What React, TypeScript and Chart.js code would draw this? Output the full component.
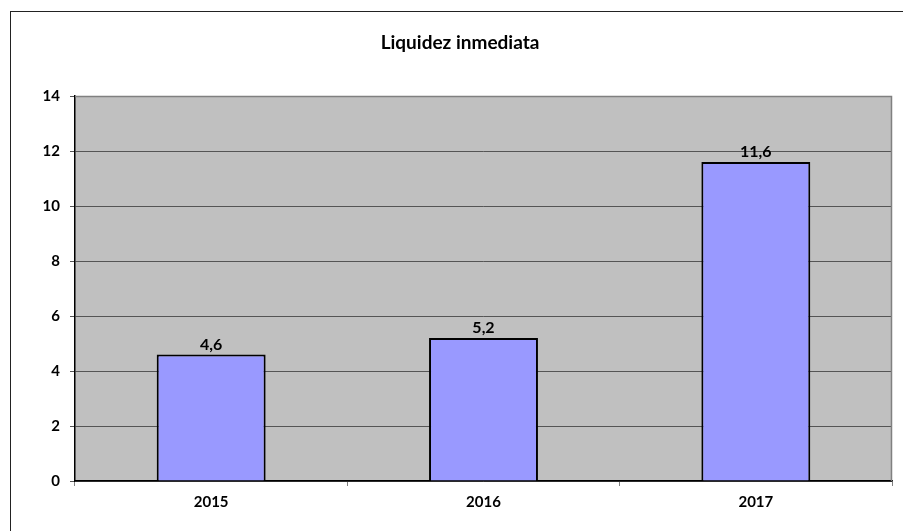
import React, { useEffect, useRef } from "react";
import { Chart, registerables } from "chart.js";

Chart.register(...registerables);

const categories = ["2015", "2016", "2017"];
const values = [4.6, 5.2, 11.6];
const yTicks = [0, 2, 4, 6, 8, 10, 12, 14];
const titleText = "Liquidez inmediata";

const FONT = "Lato, 'Open Sans', 'DejaVu Sans', sans-serif";

const decorPlugin = {
  id: "decor",
  beforeDraw(chart: any) {
    const { ctx, chartArea } = chart;
    ctx.save();
    ctx.fillStyle = "#ffffff";
    ctx.fillRect(0, 0, chart.width, chart.height);
    // outer border
    ctx.strokeStyle = "#222222";
    ctx.lineWidth = 1;
    ctx.strokeRect(10.5, 11.5, chart.width, chart.height);
    // plot background
    ctx.fillStyle = "#c0c0c0";
    ctx.fillRect(chartArea.left, chartArea.top, chartArea.right - chartArea.left, chartArea.bottom - chartArea.top);
    // title
    ctx.fillStyle = "#000000";
    ctx.font = `bold 19px ${FONT}`;
    ctx.textAlign = "center";
    ctx.textBaseline = "middle";
    ctx.fillText(titleText, 460, 43);
    ctx.restore();
  },
  afterDatasetsDraw(chart: any) {
    const { ctx, chartArea } = chart;
    ctx.save();
    // plot border top/right gray
    ctx.strokeStyle = "#808080";
    ctx.lineWidth = 1.5;
    ctx.beginPath();
    ctx.moveTo(chartArea.left, chartArea.top + 0.5);
    ctx.lineTo(chartArea.right - 0.5, chartArea.top + 0.5);
    ctx.lineTo(chartArea.right - 0.5, chartArea.bottom);
    ctx.stroke();
    // data labels
    const meta = chart.getDatasetMeta(0);
    ctx.fillStyle = "#000000";
    ctx.font = `bold 16px ${FONT}`;
    ctx.textAlign = "center";
    ctx.textBaseline = "bottom";
    meta.data.forEach((bar: any, i: number) => {
      const label = String(values[i]).replace(".", ",");
      ctx.fillText(label, bar.x, bar.y - 2);
    });
    ctx.restore();
  },
};

export default function App() {
  const ref = useRef<HTMLCanvasElement>(null);
  useEffect(() => {
    document.body.style.margin = "0";
    const chart = new Chart(ref.current!, {
      type: "bar",
      data: {
        labels: categories,
        datasets: [
          {
            data: values,
            backgroundColor: "#9999ff",
            borderColor: "#000000",
            borderWidth: 2,
            barPercentage: 0.4,
            categoryPercentage: 1,
          },
        ],
      },
      options: {
        animation: false,
        responsive: false,
        maintainAspectRatio: false,
        layout: { padding: { top: 96, right: 11, left: 0, bottom: 0 } },
        plugins: { legend: { display: false }, title: { display: false }, tooltip: { enabled: false } },
        scales: {
          x: {
            offset: true,
            grid: { offset: true, drawOnChartArea: false, drawTicks: true, tickLength: 5, color: "#808080" },
            border: { color: "#000000", width: 1.5 },
            ticks: { color: "#000000", font: { family: FONT, size: 15, weight: "bold" }, padding: 7 },
            afterFit(scale: any) {
              scale.height = 50;
            },
          },
          y: {
            min: 0,
            max: 14,
            afterBuildTicks(scale: any) {
              scale.ticks = yTicks.map((v) => ({ value: v }));
            },
            grid: { color: "#555555", lineWidth: 1, tickLength: 5, drawTicks: true },
            border: { color: "#000000", width: 1.5 },
            ticks: { color: "#000000", font: { family: FONT, size: 15, weight: "bold" }, padding: 10 },
            afterFit(scale: any) {
              scale.width = 75;
            },
          },
        },
      },
      plugins: [decorPlugin],
    });
    return () => chart.destroy();
  }, []);
  return (
    <div style={{ position: "absolute", left: 0, top: 0, width: 903, height: 531 }}>
      <canvas ref={ref} width={903} height={531} style={{ display: "block", width: 903, height: 531 }} />
    </div>
  );
}
